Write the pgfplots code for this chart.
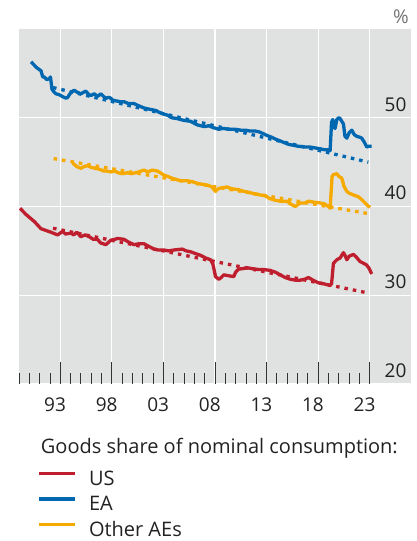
\documentclass[border=0pt]{standalone}
\usepackage{fontspec}
\setmainfont{Open Sans}
\usepackage{pgfplots}
\pgfplotsset{compat=1.18}
\definecolor{usred}{HTML}{BE1E2D}
\definecolor{eablue}{HTML}{0067B1}
\definecolor{aeorange}{HTML}{F6AA00}
\definecolor{bggray}{HTML}{E0E1E1}
\definecolor{txt}{HTML}{222222}
\newcommand{\bigfont}{\fontsize{19}{23}\selectfont}
\newcommand{\legfont}{\fontsize{20}{24}\selectfont}
\begin{document}
\bigfont
\begin{tikzpicture}
\useasboundingbox (-19pt,-157pt) rectangle (398pt,384pt);
\begin{axis}[
 at={(0pt,0pt)}, anchor=south west,
 scale only axis, width=392pt, height=355pt,
 xmin=1990, xmax=2028, ymin=20, ymax=60,
 axis background/.style={fill=bggray},
 axis line style={draw=none},
 xtick={1994,1999,...,2024},
 xticklabels={93,98,03,08,13,18,23},
 minor xtick={1990,...,2023},
 xtick pos=bottom, tick align=inside,
 major tick length=21.6pt, minor tick length=11pt,
 x tick style={color=black!80, line width=0.8pt},
 ytick={20,30,40,50},
 yticklabel pos=right,
 y tick style={draw=none},
 xmajorgrids, ymajorgrids,
 grid style={white, line width=1.2pt},
 /pgf/number format/assume math mode=true,
 ticklabel style={font=\bigfont, text=txt},
 xticklabel style={xshift=-5.2pt, yshift=-7pt},
 yticklabel style={anchor=south east, xshift=2pt},
 legend style={draw=none, fill=none, at={(0.0472,-0.2408)}, anchor=north west,
   inner sep=0pt, font=\legfont, text=txt, row sep=6pt,
   nodes={inner sep=1pt},
   /tikz/every odd column/.append style={column sep=11pt}},
 legend cell align=left,
 legend image code/.code={\draw[#1, line width=3.3pt, solid] (0pt,0.3em) -- (36pt,0.3em);},
 line join=round,
]
% trend lines
\addplot[usred, line width=3.3pt, dash pattern=on 3.5pt off 5pt, forget plot] coordinates {(1993.3,37.55) (2023.86,30.25)};
\addplot[eablue, line width=3.3pt, dash pattern=on 3.5pt off 5pt, forget plot] coordinates {(1993.3,53.4) (2023.86,45.0)};
\addplot[aeorange, line width=3.3pt, dash pattern=on 3.5pt off 5pt, forget plot] coordinates {(1993.36,45.4) (2023.86,39.2)};
% US
\addplot[usred, line width=3.3pt] coordinates {
(1990.1,39.8) (1990.68,39.1) (1991.49,38.3) (1992.13,37.5) (1993.1,37.1) (1993.75,36.8)
(1994.23,37.2) (1994.5,36.9) (1995.03,37.0) (1995.3,36.8) (1995.6,37.1) (1996.0,36.6)
(1996.4,36.8) (1996.8,36.6) (1997.2,36.3) (1997.61,36.3) (1997.9,35.9) (1998.42,35.7)
(1998.9,36.2) (1999.3,36.3) (1999.55,36.4) (2000.19,36.3) (2000.6,36.0) (2001.15,35.7)
(2001.6,35.8) (2002.12,35.8) (2002.6,35.5) (2003.08,35.2) (2003.5,35.1) (2004.05,35.1)
(2004.5,35.0) (2005.02,35.1) (2005.83,35.2) (2006.2,35.0) (2006.63,34.9) (2007.1,34.7)
(2007.6,34.5) (2008.1,34.2) (2008.57,34.0) (2008.8,33.5) (2009.05,32.1) (2009.37,31.8)
(2009.6,32.0) (2009.85,32.3) (2010.3,32.2) (2010.82,32.1) (2011.0,32.6) (2011.3,32.95)
(2011.7,33.0) (2012.11,33.1) (2012.6,33.0) (2013.23,32.9) (2013.7,32.9) (2014.36,32.8)
(2014.85,32.6) (2015.33,32.3) (2015.8,32.0) (2016.3,31.8) (2016.8,31.7) (2017.26,31.7)
(2017.7,31.8) (2018.06,32.0) (2018.5,31.7) (2019.03,31.4) (2019.5,31.3) (2019.84,31.2)
(2020.16,31.1) (2020.3,31.3) (2020.48,33.6) (2020.81,34.0) (2021.13,34.2) (2021.45,34.8)
(2021.6,34.5) (2021.78,34.0) (2022.0,34.4) (2022.42,34.6) (2022.7,34.3) (2023.06,33.8)
(2023.4,33.6) (2023.71,33.4) (2023.95,33.0) (2024.19,32.4)
};
\addlegendentry{US}
% EA
\addplot[eablue, line width=3.3pt] coordinates {
(1991.17,56.3) (1991.5,55.9) (1991.65,55.7) (1992.0,55.4) (1992.13,55.3) (1992.3,54.6)
(1992.45,54.6) (1992.7,54.3) (1992.94,54.4) (1993.05,54.6) (1993.2,53.2) (1993.4,52.9)
(1993.58,52.7) (1993.9,52.6) (1994.2,52.4) (1994.55,52.2) (1994.72,52.3) (1995.0,52.8)
(1995.35,53.1) (1995.6,52.9) (1996.0,52.7) (1996.3,52.9) (1996.48,53.0) (1996.7,52.7)
(1996.97,52.5) (1997.3,52.7) (1997.61,52.4) (1997.93,52.7) (1998.2,52.4) (1998.42,52.2)
(1998.7,52.3) (1998.9,52.2) (1999.06,52.0) (1999.4,51.9) (1999.87,51.8) (2000.2,51.8)
(2000.6,51.6) (2001.15,51.6) (2001.5,51.4) (2002.12,51.1) (2002.5,51.0) (2002.93,50.9)
(2003.3,50.8) (2003.6,50.6) (2004.05,50.4) (2004.38,50.3) (2004.8,50.0) (2005.35,49.9)
(2005.66,49.8) (2006.0,49.7) (2006.63,49.6) (2006.95,49.4) (2007.28,49.2) (2007.6,49.1)
(2008.0,49.0) (2008.4,49.1) (2008.8,48.9) (2009.37,48.7) (2009.8,48.8) (2010.3,48.7)
(2010.98,48.7) (2011.5,48.6) (2011.95,48.6) (2012.4,48.5) (2012.91,48.5) (2013.3,48.4)
(2013.7,48.2) (2014.04,48.0) (2014.5,47.8) (2014.85,47.6) (2015.3,47.4) (2015.7,47.2)
(2016.13,47.0) (2016.6,46.9) (2017.0,46.8) (2017.74,46.7) (2018.23,46.7) (2018.7,46.6)
(2019.2,46.5) (2019.6,46.4) (2020.0,46.4) (2020.16,46.3) (2020.3,49.5) (2020.42,49.8)
(2020.55,48.9) (2020.64,48.8) (2020.81,49.8) (2021.0,50.0) (2021.13,49.9) (2021.29,49.6)
(2021.45,49.3) (2021.6,47.9) (2021.78,47.7) (2022.0,48.3) (2022.26,48.6) (2022.5,48.1)
(2022.75,47.9) (2023.06,47.8) (2023.23,47.7) (2023.5,47.2) (2023.71,46.7) (2023.9,46.8)
(2024.19,46.8)
};
\addlegendentry{EA}
% Other AEs
\addplot[aeorange, line width=3.3pt] coordinates {
(1995.2,44.9) (1995.6,44.5) (1996.0,44.3) (1996.3,44.5) (1996.65,44.6) (1997.0,44.4)
(1997.4,44.3) (1997.8,44.2) (1998.2,44.0) (1998.5,44.0) (1998.9,43.9) (1999.3,44.0)
(1999.6,43.8) (2000.0,43.7) (2000.5,43.8) (2000.9,43.7) (2001.3,43.8) (2001.6,43.9)
(2002.1,44.1) (2002.5,43.9) (2002.9,44.1) (2003.4,44.0) (2003.7,43.8) (2004.1,43.5)
(2004.4,43.4) (2004.8,43.2) (2005.35,43.0) (2005.8,42.9) (2006.3,42.9) (2006.8,42.8)
(2007.3,42.6) (2007.8,42.5) (2008.3,42.4) (2008.7,42.2) (2009.05,41.7) (2009.3,42.0)
(2009.6,42.1) (2010.18,42.2) (2010.6,42.0) (2011.3,41.9) (2011.8,41.7) (2012.3,41.6)
(2012.9,41.4) (2013.4,41.3) (2013.88,41.2) (2014.3,40.9) (2014.85,40.7) (2015.3,40.6)
(2015.98,40.6) (2016.3,40.3) (2016.78,40.0) (2017.26,40.4) (2017.74,40.4) (2018.06,40.6)
(2018.5,40.5) (2019.2,40.4) (2019.6,40.3) (2020.0,40.0) (2020.16,39.8) (2020.35,43.4)
(2020.5,43.6) (2020.81,43.7) (2021.0,43.4) (2021.29,43.2) (2021.5,42.3) (2021.78,41.7)
(2022.0,41.5) (2022.42,41.3) (2022.9,41.1) (2023.2,40.8) (2023.55,40.4) (2023.8,40.1)
(2024.03,39.9)
};
\addlegendentry{Other AEs}
\end{axis}
\node[anchor=base west, inner sep=0pt, text=txt, font=\legfont] at (21.7pt,-69pt) {Goods share of nominal consumption:};
\node[text=black!55, font=\bigfont, inner sep=0pt] at (382pt,367.7pt) {\%};
\end{tikzpicture}
\end{document}
